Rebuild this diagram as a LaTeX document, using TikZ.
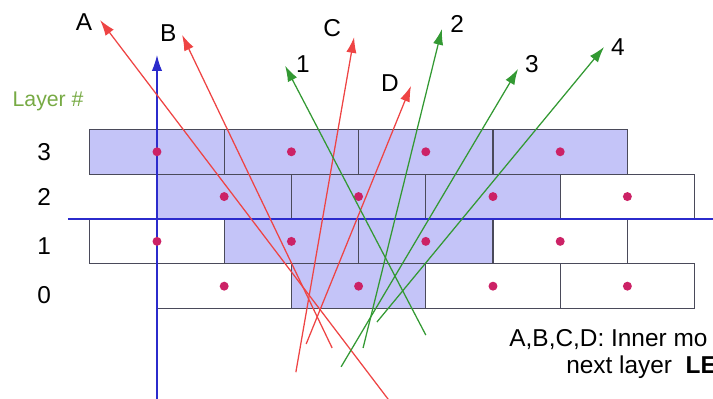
\documentclass[tikz,border=0pt]{standalone}
\usepackage{fontspec}
\setmainfont{Liberation Sans}
\usetikzlibrary{arrows.meta}

\definecolor{brickfill}{HTML}{C4C4F8}
\definecolor{brickline}{HTML}{4A4A5A}
\definecolor{dotmag}{HTML}{CC2266}
\definecolor{axblue}{HTML}{2B2BCC}
\definecolor{redray}{HTML}{EE4444}
\definecolor{greenray}{HTML}{339933}
\definecolor{layergreen}{HTML}{77AA44}

\tikzset{
  brick/.style={draw=brickline, line width=0.8pt},
  modot/.style={fill=dotmag},
  redarr/.style={->, redray, line width=0.8pt},
  greenarr/.style={->, greenray, line width=0.8pt},
  lbl/.style={inner sep=0pt, font=\fontsize{15.5}{18}\selectfont}
}

\begin{document}
\begin{tikzpicture}[scale=1, >={Latex[length=10pt,width=6.5pt]}]
        \useasboundingbox (-3.504,-4.018) rectangle (12.411,4.888);
        \clip (-3.504,-4.018) rectangle (12.411,4.888);
        % ==== BRICKS, LAYER 3 TO 0 ====
        \foreach \x in {-1.5,1.5,4.5,7.5}
            \draw[brick, fill=brickfill] (\x,1) rectangle ++(3,1);
        \foreach \x/\f in {0/brickfill,3/brickfill,6/brickfill,9/white}
            \draw[brick, fill=\f] (\x,0) rectangle ++(3,1);
        \foreach \x/\f in {-1.5/white,1.5/brickfill,4.5/brickfill,7.5/white}
            \draw[brick, fill=\f] (\x,-1) rectangle ++(3,1);
        \foreach \x/\f in {0/white,3/brickfill,6/white,9/white}
            \draw[brick, fill=\f] (\x,-2) rectangle ++(3,1);
        % ==== AXES ====
        \coordinate (vbot) at (0,-4.1);
        \coordinate (vtop) at (0,3.66);
        \coordinate (hleft) at (-1.99,0);
        \coordinate (hright) at (12.6,0);
        \draw[->, axblue, line width=0.8pt] (vbot) -- (vtop);
        \draw[axblue, line width=0.8pt] (hleft) -- (hright);
        % ==== MODULE CENTRES ====
        \foreach \x in {0,3,6,9} {
            \fill[modot] (\x,1.5) circle (0.1);
            \fill[modot] (\x,-0.5) circle (0.1);
        }
        \foreach \x in {1.5,4.5,7.5,10.5} {
            \fill[modot] (\x,0.5) circle (0.1);
            \fill[modot] (\x,-1.5) circle (0.1);
        }
        % ==== LAYER NUMBERS ====
        \node[lbl, text=layergreen, font=\fontsize{13.5}{16}\selectfont] (laytitle) at (-2.43,2.63) {Layer \#};
        \node[lbl] (lay3) at (-2.52,1.5) {3};
        \node[lbl] (lay2) at (-2.52,0.49) {2};
        \node[lbl] (lay1) at (-2.52,-0.6) {1};
        \node[lbl] (lay0) at (-2.52,-1.7) {0};
        % ==== INNER RAYS A-D ====
        \coordinate (Astart) at (5.34,-4.26);
        \coordinate (Atip) at (-1.27,4.44);
        \coordinate (Bstart) at (3.91,-2.88);
        \coordinate (Btip) at (0.56,4.11);
        \coordinate (Cstart) at (3.10,-3.42);
        \coordinate (Ctip) at (4.40,4.06);
        \coordinate (Dstart) at (3.33,-2.79);
        \coordinate (Dtip) at (5.67,2.97);
        \draw[redarr] (Astart) -- (Atip);
        \draw[redarr] (Bstart) -- (Btip);
        \draw[redarr] (Cstart) -- (Ctip);
        \draw[redarr] (Dstart) -- (Dtip);
        \node[lbl] (labA) at (-1.63,4.40) {A};
        \node[lbl] (labB) at (0.25,4.15) {B};
        \node[lbl] (labC) at (3.91,4.26) {C};
        \node[lbl] (labD) at (5.20,3.04) {D};
        % ==== RAYS 1-4 ====
        \coordinate (r1start) at (6.00,-2.59);
        \coordinate (r1tip) at (2.86,3.42);
        \coordinate (r2start) at (4.60,-2.88);
        \coordinate (r2tip) at (6.36,4.24);
        \coordinate (r3start) at (4.11,-3.30);
        \coordinate (r3tip) at (8.06,3.35);
        \coordinate (r4start) at (4.91,-2.30);
        \coordinate (r4tip) at (9.98,3.84);
        \draw[greenarr] (r1start) -- (r1tip);
        \draw[greenarr] (r2start) -- (r2tip);
        \draw[greenarr] (r3start) -- (r3tip);
        \draw[greenarr] (r4start) -- (r4tip);
        \node[lbl] (lab1) at (3.26,3.46) {1};
        \node[lbl] (lab2) at (6.70,4.35) {2};
        \node[lbl] (lab3) at (8.37,3.46) {3};
        \node[lbl] (lab4) at (10.29,3.84) {4};
        % ==== NOTE ====
        \node[lbl, anchor=west] (notea) at (7.86,-2.70) {A,B,C,D: Inner mo};
        \node[lbl, anchor=west] (noteb) at (9.13,-3.30) {next layer\ \ \textbf{LE}};
\end{tikzpicture}
\end{document}
